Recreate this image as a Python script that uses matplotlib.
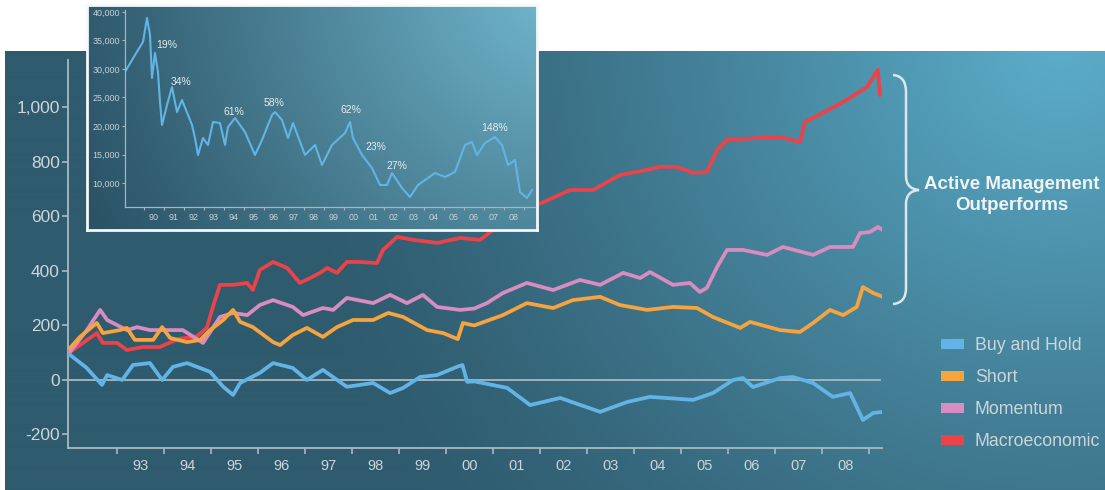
import matplotlib
matplotlib.use('Agg')
import matplotlib.pyplot as plt
import numpy as np
from matplotlib.path import Path
from matplotlib.patches import PathPatch, Rectangle
from matplotlib.ticker import FuncFormatter

plt.rcParams['font.family'] = ['Liberation Sans', 'DejaVu Sans']

# ---------------- data ----------------
series_names = ['Buy and Hold', 'Short', 'Momentum', 'Macroeconomic']

buy_yr = [1992.0, 1992.35, 1992.68, 1992.79, 1993.11, 1993.34, 1993.70, 1993.96, 1994.19,
          1994.49, 1994.98, 1995.26, 1995.47, 1995.62, 1996.04, 1996.32, 1996.74, 1997.04,
          1997.38, 1997.89, 1998.45, 1998.81, 1999.09, 1999.45, 1999.81, 2000.23, 2000.35,
          2000.45, 2000.60, 2001.30, 2001.79, 2002.43, 2003.28, 2003.85, 2004.34, 2005.26,
          2005.68, 2006.11, 2006.32, 2006.53, 2007.11, 2007.38, 2007.81, 2008.23, 2008.60,
          2008.87, 2009.09, 2009.30]
buy_val = [92, 45, -18, 18, 0, 55, 62, 0, 48,
           62, 30, -25, -55, -11, 26, 62, 44, 0,
           37, -25, -11, -48, -29, 11, 18, 48, 55,
           -7, -5, -29, -92, -66, -117, -81, -62, -73,
           -48, 0, 7, -26, 7, 11, -11, -62, -48,
           -147, -121, -117]

short_yr = [1992.0, 1992.21, 1992.57, 1992.70, 1993.06, 1993.21, 1993.38, 1993.77, 1993.96,
            1994.13, 1994.49, 1994.77, 1994.98, 1995.26, 1995.47, 1995.62, 1995.89, 1996.32,
            1996.47, 1996.74, 1997.04, 1997.38, 1997.68, 1998.02, 1998.45, 1998.77, 1999.09,
            1999.60, 1999.94, 2000.25, 2000.36, 2000.60, 2001.21, 2001.72, 2002.28, 2002.70,
            2003.28, 2003.70, 2004.28, 2004.83, 2005.34, 2005.68, 2006.26, 2006.47, 2007.11,
            2007.53, 2007.81, 2008.17, 2008.45, 2008.74, 2008.87, 2009.09, 2009.30]
short_val = [117, 158, 209, 172, 183, 191, 147, 147, 194,
             154, 139, 147, 183, 220, 257, 213, 194, 139,
             128, 165, 191, 158, 194, 220, 220, 246, 231,
             183, 172, 150, 209, 200, 238, 282, 264, 293,
             305, 275, 257, 268, 264, 231, 191, 213, 183,
             176, 209, 257, 238, 268, 341, 319, 305]

mom_yr = [1992.0, 1992.36, 1992.64, 1992.79, 1993.21, 1993.43, 1993.70, 1994.19, 1994.40,
          1994.83, 1995.19, 1995.47, 1995.77, 1996.04, 1996.32, 1996.74, 1996.96, 1997.38,
          1997.60, 1997.89, 1998.45, 1998.81, 1999.17, 1999.51, 1999.81, 2000.30, 2000.60,
          2000.87, 2001.21, 2001.72, 2002.28, 2002.85, 2003.28, 2003.77, 2004.13, 2004.34,
          2004.83, 2005.19, 2005.40, 2005.55, 2005.77, 2005.98, 2006.32, 2006.83, 2007.17,
          2007.81, 2008.17, 2008.66, 2008.81, 2009.02, 2009.19, 2009.30]
mom_val = [103, 183, 257, 220, 183, 194, 183, 183, 183,
           136, 231, 246, 238, 275, 293, 268, 238, 264,
           257, 301, 282, 312, 282, 312, 268, 257, 262,
           282, 319, 356, 330, 367, 349, 393, 374, 396,
           349, 356, 323, 338, 415, 477, 477, 459, 488,
           459, 488, 488, 539, 543, 561, 550]

macro_yr = [1992.0, 1992.21, 1992.57, 1992.70, 1993.0, 1993.21, 1993.55, 1993.91, 1994.3,
            1994.7, 1994.91, 1995.04, 1995.19, 1995.47, 1995.77, 1995.89, 1996.04, 1996.32,
            1996.62, 1996.89, 1997.11, 1997.32, 1997.47, 1997.68, 1997.89, 1998.17, 1998.53,
            1998.66, 1998.96, 1999.30, 1999.81, 2000.30, 2000.72, 2001.0, 2001.4, 2001.94,
            2002.64, 2003.13, 2003.70, 2004.28, 2004.55, 2004.91, 2005.26, 2005.55, 2005.77,
            2005.98, 2006.68, 2007.11, 2007.53, 2007.64, 2008.02, 2008.53, 2008.96, 2009.19,
            2009.23, 2009.30]
macro_val = [103, 128, 172, 136, 136, 110, 121, 121, 150,
             160, 191, 268, 349, 349, 356, 330, 404, 433,
             411, 356, 374, 393, 411, 393, 433, 433, 429,
             477, 525, 514, 503, 521, 514, 550, 590, 642,
             697, 697, 752, 771, 782, 782, 760, 763, 844,
             881, 888, 892, 873, 947, 980, 1028, 1075, 1138,
             1046, 1064]

year_labels = ['93', '94', '95', '96', '97', '98', '99', '00', '01', '02', '03', '04',
               '05', '06', '07', '08']
y_ticks = [-200, 0, 200, 400, 600, 800, 1000]

# inset: index level
nk_yr = [1989.05, 1989.55, 1989.95, 1990.15, 1990.3, 1990.4, 1990.55, 1990.7, 1990.8,
         1990.9, 1991.15, 1991.4, 1991.65, 1991.9, 1992.4, 1992.55, 1992.7, 1992.95,
         1993.2, 1993.45, 1993.8, 1994.05, 1994.2, 1994.55, 1995.05, 1995.55, 1995.9,
         1996.4, 1996.55, 1996.9, 1997.2, 1997.45, 1998.05, 1998.55, 1998.9, 1999.4,
         2000.05, 2000.3, 2000.45, 2000.9, 2001.4, 2001.8, 2002.15, 2002.4, 2002.9,
         2003.3, 2003.7, 2004.2, 2004.55, 2005.05, 2005.55, 2006.05, 2006.4, 2006.65,
         2007.05, 2007.55, 2007.9, 2008.2, 2008.55, 2008.8, 2009.15, 2009.4]
nk_val = [29470, 32460, 34740, 38950, 35970, 28420, 32810, 29470, 24210,
          20180, 23680, 26840, 22450, 24560, 20180, 17890, 14910, 17890,
          16670, 20700, 20530, 16670, 19820, 21400, 18950, 14910, 17540,
          21930, 22450, 21050, 17890, 20530, 14910, 16670, 13160, 16670,
          18770, 20700, 17890, 14910, 12630, 9650, 9650, 11750, 9120,
          7540, 9650, 10880, 11750, 11050, 11930, 16670, 17190, 14910,
          17020, 18070, 16670, 13160, 14040, 8420, 7370, 8770]
nk_year_labels = ['90', '91', '92', '93', '94', '95', '96', '97', '98', '99', '00',
                  '01', '02', '03', '04', '05', '06', '07', '08']
nk_y_ticks = [10000, 15000, 20000, 25000, 30000, 35000, 40000]
pct_labels = ['19%', '34%', '61%', '58%', '62%', '23%', '27%', '148%']
pct_yr = [1991.13, 1991.85, 1994.48, 1996.5, 2000.33, 2001.58, 2002.65, 2007.55]
pct_val = [34210, 27720, 22510, 24090, 22810, 16370, 12980, 19600]

# ---------------- styling ----------------
colors = ['#63b4e6', '#f7a43f', '#d88cc2', '#ec4249']
axis_col = '#a9b9c0'
text_col = '#cdd5d9'

W, H = 1105, 490


def box(x0, y0, x1, y1):
    return [x0 / W, 1 - y1 / H, (x1 - x0) / W, (y1 - y0) / H]


def gradient(w, h, light, dark, cx, cy, radius, power):
    gx, gy = np.meshgrid(np.arange(w), np.arange(h))
    d = np.hypot(gx - cx, gy - cy)
    t = np.clip(1 - d / radius, 0, 1) ** power
    light = np.array(matplotlib.colors.to_rgb(light))
    dark = np.array(matplotlib.colors.to_rgb(dark))
    return dark + (light - dark) * t[..., None]


fig = plt.figure(figsize=(W / 100, H / 100), dpi=100)

# background photo-like panel
bg = fig.add_axes([0, 0, 1, 1])
bg.set_xlim(0, W)
bg.set_ylim(H, 0)
bg.axis('off')
img = gradient(W - 5, H - 52, '#5caecb', '#2f5b6e', W - 5 - 45, -12, 780, 1.25)
bg.imshow(img, extent=(5, W, H, 52), aspect='auto', zorder=0)

# brace
verts = [(893, 75), (906, 76), (906, 92), (906, 176), (906, 189), (919, 190),
         (906, 191), (906, 204), (906, 288), (906, 303), (893, 304)]
codes = [Path.MOVETO, Path.CURVE3, Path.CURVE3, Path.LINETO, Path.CURVE3, Path.CURVE3,
         Path.CURVE3, Path.CURVE3, Path.LINETO, Path.CURVE3, Path.CURVE3]
bg.add_patch(PathPatch(Path(verts, codes), fc='none', ec='#dbe7eb', lw=1.8, zorder=2))
bg.text(1012, 195, 'Active Management\nOutperforms', ha='center', va='center',
        fontsize=13.5, fontweight='bold', color='#eef4f6', linespacing=1.3, zorder=2)

# legend
for i, (name, c) in enumerate(zip(series_names, colors)):
    bg.add_patch(Rectangle((941, 339 + 32 * i), 23, 10, fc=c, ec='none', zorder=2))
    bg.text(975, 345 + 32 * i, name, ha='left', va='center', fontsize=12.8,
            color=text_col, zorder=2)

# ---------------- main chart ----------------
ax = fig.add_axes(box(68, 60, 882, 448))
ax.patch.set_alpha(0)
ax.set_xlim(1991.957, 2009.277)
ax.set_ylim(-249.6, 1174)

ax.axhline(0, xmax=0.997, color=axis_col, lw=1.3, zorder=1)
ax.plot(macro_yr, macro_val, color=colors[3], lw=2.7, zorder=3)
ax.plot(mom_yr, mom_val, color=colors[2], lw=2.7, zorder=4)
ax.plot(short_yr, short_val, color=colors[1], lw=2.7, zorder=5)
ax.plot(buy_yr, buy_val, color=colors[0], lw=2.7, zorder=6)

for s in ['top', 'right']:
    ax.spines[s].set_visible(False)
for s in ['left', 'bottom']:
    ax.spines[s].set_color(axis_col)
    ax.spines[s].set_linewidth(1.3)

ax.set_yticks(y_ticks)
ax.yaxis.set_major_formatter(FuncFormatter(lambda v, p: f'{v:,.0f}'))
ax.tick_params(axis='y', direction='out', length=4, width=1.2, color=axis_col,
               labelcolor=text_col, labelsize=12.5, pad=2)

ax.set_xticks(np.arange(1993, 2010))
ax.set_xticklabels([])
ax.set_xticks(np.arange(1993.5, 2009), minor=True)
ax.set_xticklabels(year_labels, minor=True)
ax.tick_params(axis='x', which='major', direction='out', length=4, width=1.2,
               color=axis_col)
ax.tick_params(axis='x', which='minor', length=0, labelcolor=text_col,
               labelsize=10.5, pad=8)

# ---------------- inset ----------------
ibg = fig.add_axes(box(87, 5, 537, 230), zorder=5)
ibg.imshow(gradient(450, 225, '#72b9cf', '#2b5366', 470, -20, 520, 1.1),
           aspect='auto', extent=(0, 1, 0, 1))
ibg.set_xticks([])
ibg.set_yticks([])
for s in ibg.spines.values():
    s.set_color('#f4f8f9')
    s.set_linewidth(2)

iax = fig.add_axes(box(125, 10, 535, 207), zorder=6)
iax.patch.set_alpha(0)
iax.set_xlim(1989.05, 2009.55)
iax.set_ylim(5790, 40350)
iax.plot(nk_yr, nk_val, color='#62b4e4', lw=1.5)
for lab, x, y in zip(pct_labels, pct_yr, pct_val):
    iax.text(x, y, lab, ha='center', va='center', fontsize=7.5, color='#e4ecef')

for s in ['top', 'right']:
    iax.spines[s].set_visible(False)
for s in ['left', 'bottom']:
    iax.spines[s].set_color('#a4b6be')
    iax.spines[s].set_linewidth(0.9)
iax.set_yticks(nk_y_ticks)
iax.yaxis.set_major_formatter(FuncFormatter(lambda v, p: f'{v:,.0f}'))
iax.tick_params(axis='y', direction='out', length=2, width=0.8, color='#a4b6be',
                labelcolor='#c6d2d8', labelsize=6.5, pad=1.5)
iax.set_xticks(np.arange(1990, 2010))
iax.set_xticklabels([])
iax.set_xticks(np.arange(1990.5, 2009), minor=True)
iax.set_xticklabels(nk_year_labels, minor=True)
iax.tick_params(axis='x', which='major', direction='out', length=2.5, width=0.8,
                color='#a4b6be')
iax.tick_params(axis='x', which='minor', length=0, labelcolor='#c6d2d8',
                labelsize=6.5, pad=4)

fig.savefig('out.png', dpi=100, facecolor='white')
